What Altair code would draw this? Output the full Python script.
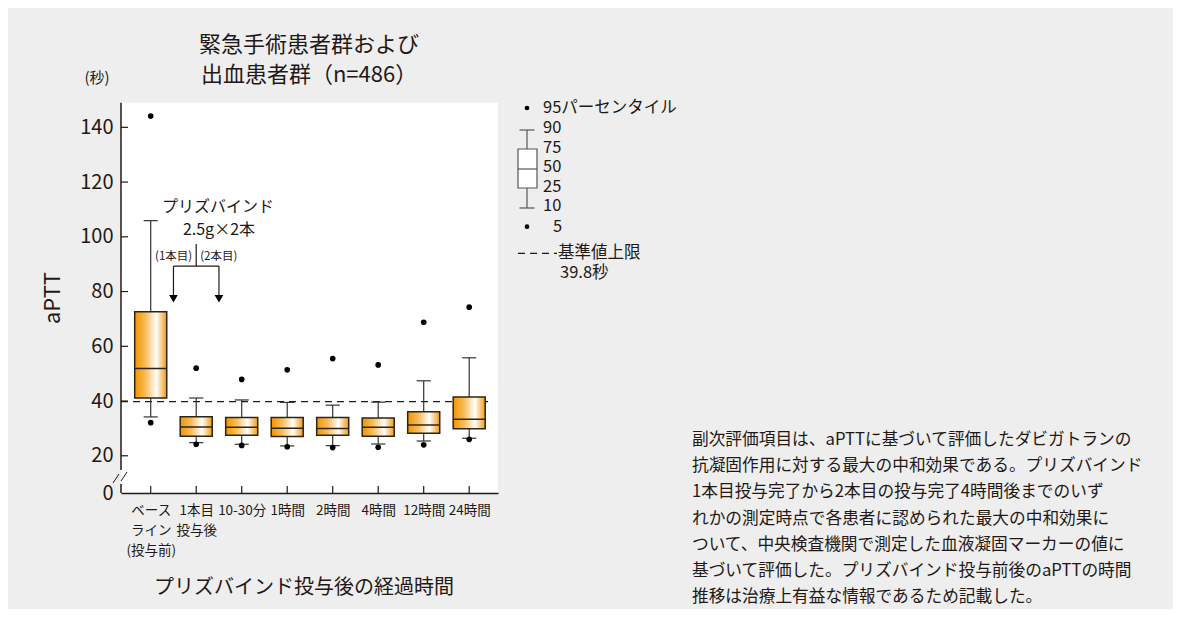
import json
import altair as alt
import pandas as pd

FONT = "Noto Sans CJK JP"
INK = "#231815"

# ---- data ----
x_labels = [["ベース", "ライン", "(投与前)"], ["1本目", "投与後"], ["10-30分"], ["1時間"],
            ["2時間"], ["4時間"], ["12時間"], ["24時間"]]
p5 = [32.1, 24.2, 23.8, 23.3, 23.0, 23.1, 24.0, 26.0]
p10 = [34.2, 24.8, 24.2, 23.6, 23.7, 24.3, 25.4, 26.4]
p25 = [41.1, 27.1, 27.5, 27.0, 27.5, 27.1, 28.2, 29.9]
p50 = [51.9, 30.5, 30.4, 30.1, 30.0, 30.4, 31.2, 33.3]
p75 = [72.6, 34.3, 34.0, 34.0, 34.0, 33.8, 36.1, 41.5]
p90 = [105.9, 41.1, 40.4, 39.5, 38.5, 39.6, 47.4, 55.8]
p95 = [144.1, 52.0, 47.9, 51.4, 55.5, 53.2, 68.8, 74.3]
y_ticks = [20, 40, 60, 80, 100, 120, 140]
upper_limit = 39.8

title_lines = ["緊急手術患者群および", "出血患者群（n=486）"]
x_title = "プリズバインド投与後の経過時間"
y_title = "aPTT"
y_unit = "(秒)"
note_lines = [
    "副次評価項目は、aPTTに基づいて評価したダビガトランの",
    "抗凝固作用に対する最大の中和効果である。プリズバインド",
    "1本目投与完了から2本目の投与完了4時間後までのいず",
    "れかの測定時点で各患者に認められた最大の中和効果に",
    "ついて、中央検査機関で測定した血液凝固マーカーの値に",
    "基づいて評価した。プリズバインド投与前後のaPTTの時間",
    "推移は治療上有益な情報であるため記載した。",
]

n = len(x_labels)
df = pd.DataFrame({"idx": list(range(n)), "p5": p5, "p10": p10, "p25": p25,
                   "p50": p50, "p75": p75, "p90": p90, "p95": p95})

W, H = 377, 390.3
XDOM = [-0.653, 7.633]
YDOM = [6.4, 149.0]
xs = alt.Scale(domain=XDOM, nice=False, zero=False)
ys = alt.Scale(domain=YDOM, nice=False, zero=False)

label_expr = json.dumps(x_labels, ensure_ascii=False) + "[datum.value]"

xaxis = alt.Axis(values=list(range(n)), labelExpr=label_expr, title=None, grid=False,
                 ticks=False, domain=True, domainColor=INK, domainWidth=1.5,
                 labelFont=FONT, labelFontSize=13.5, labelColor=INK, labelPadding=10,
                 labelLineHeight=20, labelOverlap=False, labelBound=False, labelFlush=False)
yaxis = alt.Axis(values=[YDOM[0]] + y_ticks, labelExpr="datum.value < 10 ? '0' : datum.label",
                 title=None, grid=False, ticks=False, domain=False, labelFont=FONT,
                 labelFontSize=20, labelColor=INK, labelPadding=8, labelOverlap=False)


def X(field):
    return alt.X(field, scale=xs, axis=xaxis, title=None)


def Y(field):
    return alt.Y(field, scale=ys, axis=yaxis, title=None)


grad = alt.LinearGradient(
    gradient="linear", x1=0, x2=1, y1=0, y2=0,
    stops=[alt.GradientStop(offset=0, color="#F29400"),
           alt.GradientStop(offset=0.35, color="#F8BE5C"),
           alt.GradientStop(offset=0.68, color="#FFFFFF"),
           alt.GradientStop(offset=1, color="#F29A10")])

base = alt.Chart(df).transform_calculate(
    bx1="datum.idx - 0.352", bx2="datum.idx + 0.352",
    c1="datum.idx - 0.155", c2="datum.idx + 0.155")


def one():
    return alt.Chart(alt.Data(values=[{}]))


layers = []

# x ticks (inward)
layers.append(base.mark_rule(color=INK, strokeWidth=1.2).encode(
    x=X("idx:Q"), y=alt.value(H), y2=alt.value(H - 7)))
# y ticks (inward)
layers.append(alt.Chart(alt.Data(values=[{"v": v} for v in y_ticks])).mark_rule(
    color=INK, strokeWidth=1.2).encode(y=Y("v:Q"), x=alt.value(0), x2=alt.value(7)))
# y axis line with break
layers.append(alt.Chart(alt.Data(values=[{"a": 14.8, "b": YDOM[1]}, {"a": YDOM[0], "b": 9.7}]))
              .mark_rule(color=INK, strokeWidth=1.5).encode(y=Y("a:Q"), y2="b:Q", x=alt.value(0)))
layers.append(one().mark_rule(color=INK, strokeWidth=1).encode(
    x=alt.value(-8), x2=alt.value(-2), y=alt.value(380.3), y2=alt.value(371.3)))
layers.append(one().mark_rule(color=INK, strokeWidth=1).encode(
    x=alt.value(0), x2=alt.value(6), y=alt.value(378.3), y2=alt.value(369.3)))

# reference line
layers.append(alt.Chart(alt.Data(values=[{"y": upper_limit, "x1": XDOM[0], "x2": 7.49}]))
              .mark_rule(color=INK, strokeWidth=1.2, strokeDash=[7, 5]).encode(
    x=X("x1:Q"), x2="x2:Q", y=Y("y:Q")))

# whiskers
layers.append(base.mark_rule(color="#333333", strokeWidth=1.2).encode(
    x=X("idx:Q"), y=Y("p75:Q"), y2="p90:Q"))
layers.append(base.mark_rule(color="#333333", strokeWidth=1.2).encode(
    x=X("idx:Q"), y=Y("p10:Q"), y2="p25:Q"))
# boxes
layers.append(base.mark_rect(fill=grad, stroke="#2e2414", strokeWidth=1.5).encode(
    x=X("bx1:Q"), x2="bx2:Q", y=Y("p25:Q"), y2="p75:Q"))
# medians
layers.append(base.mark_rule(color="#2e2414", strokeWidth=1.5).encode(
    x=X("bx1:Q"), x2="bx2:Q", y=Y("p50:Q")))
# caps
for col in ["p90", "p10"]:
    layers.append(base.mark_rule(color="#333333", strokeWidth=1.2).encode(
        x=X("c1:Q"), x2="c2:Q", y=Y(f"{col}:Q")))
# 5th / 95th points
for col in ["p95", "p5"]:
    layers.append(base.mark_circle(color="#000000", opacity=1, size=32).encode(
        x=X("idx:Q"), y=Y(f"{col}:Q")))

# ---- dosing annotation ----
ann_txt = dict(font=FONT, color=INK)
layers.append(alt.Chart(alt.Data(values=[{"x": 1.48, "y": 110.9, "t": "プリズバインド"},
                                         {"x": 1.5, "y": 102.5, "t": "2.5g×2本"}]))
              .mark_text(fontSize=16, baseline="middle", align="center", **ann_txt).encode(
    x=X("x:Q"), y=Y("y:Q"), text="t:N"))
layers.append(alt.Chart(alt.Data(values=[{"x": 1, "y": 92.6, "t": "(1本目)"}]))
              .mark_text(fontSize=11.5, baseline="middle", align="right", dx=-4, **ann_txt).encode(
    x=X("x:Q"), y=Y("y:Q"), text="t:N"))
layers.append(alt.Chart(alt.Data(values=[{"x": 1, "y": 92.6, "t": "(2本目)"}]))
              .mark_text(fontSize=11.5, baseline="middle", align="left", dx=4, **ann_txt).encode(
    x=X("x:Q"), y=Y("y:Q"), text="t:N"))
layers.append(alt.Chart(alt.Data(values=[
    {"x": 1, "x2": 1, "y": 97.4, "y2": 89.3},
    {"x": 0.5, "x2": 1.5, "y": 89.3, "y2": 89.3},
    {"x": 0.5, "x2": 0.5, "y": 89.3, "y2": 78.5},
    {"x": 1.5, "x2": 1.5, "y": 89.3, "y2": 78.5}]))
    .mark_rule(color=INK, strokeWidth=1.2).encode(
    x=X("x:Q"), x2="x2:Q", y=Y("y:Q"), y2="y2:Q"))
layers.append(alt.Chart(alt.Data(values=[{"x": 0.5, "y": 77.4}, {"x": 1.5, "y": 77.4}]))
              .mark_point(shape="triangle-down", filled=True, color="#000000", opacity=1, size=75)
              .encode(x=X("x:Q"), y=Y("y:Q")))


# ---- titles ----
def txt(text, x, y, size, align="center", angle=None, lh=None):
    kw = dict(font=FONT, color=INK, fontSize=size, align=align, baseline="middle")
    if angle is not None:
        kw["angle"] = angle
    if lh is not None:
        kw["lineHeight"] = lh
    return one().mark_text(**kw).encode(x=alt.value(x), y=alt.value(y), text=alt.value(text))


layers.append(txt(title_lines, 188, -57.7, 22, lh=30))
layers.append(txt(y_unit, -24, -24.7, 15))
layers.append(txt(y_title, -68, 195.3, 22, angle=270))
layers.append(txt(x_title, 183, 485.3, 20))
layers.append(txt(note_lines, 571, 337.3, 16.7, align="left", lh=26.2))

# ---- legend ----
LX = 406
layers.append(one().mark_circle(color="#000000", opacity=1, size=22).encode(
    x=alt.value(LX), y=alt.value(5.3)))
layers.append(one().mark_circle(color="#000000", opacity=1, size=22).encode(
    x=alt.value(LX), y=alt.value(124.0)))
for (a, b) in [(27.3, 46.3), (85.3, 105.3)]:
    layers.append(one().mark_rule(color="#555555", strokeWidth=1.2).encode(
        x=alt.value(LX), y=alt.value(a), y2=alt.value(b)))
for yy in [27.3, 105.3]:
    layers.append(one().mark_rule(color="#555555", strokeWidth=1.2).encode(
        x=alt.value(LX - 7.5), x2=alt.value(LX + 7.5), y=alt.value(yy)))
layers.append(one().mark_rect(fill="#ffffff", stroke="#555555", strokeWidth=1.2).encode(
    x=alt.value(397), x2=alt.value(416), y=alt.value(46.3), y2=alt.value(85.3)))
layers.append(one().mark_rule(color="#555555", strokeWidth=1.2).encode(
    x=alt.value(397), x2=alt.value(416), y=alt.value(66.3)))
layers.append(one().mark_rule(color=INK, strokeWidth=1.2, strokeDash=[7, 5]).encode(
    x=alt.value(397), x2=alt.value(436), y=alt.value(150.6)))
layers.append(txt("95パーセンタイル", 422, 5.3, 16.5, align="left"))
for lab, yy in zip(["90", "75", "50", "25", "10"], [25.6, 45.6, 64.6, 84.6, 103.0]):
    layers.append(txt(lab, 422, yy, 16.5, align="left"))
layers.append(txt("5", 432, 124.0, 16.5, align="left"))
layers.append(txt("基準値上限", 437, 150.6, 16.5, align="left"))
layers.append(txt("39.8秒", 439, 170.0, 16.5, align="left"))

chart = alt.layer(*layers).properties(
    width=W, height=H,
    autosize=alt.AutoSizeParams(type="none"),
    padding={"left": 113, "top": 94.7, "right": 675, "bottom": 116},
    background="#eeeeee",
).configure_view(fill="#ffffff", strokeWidth=0)

chart.save("out.html", embed_options={"renderer": "svg", "actions": False})
